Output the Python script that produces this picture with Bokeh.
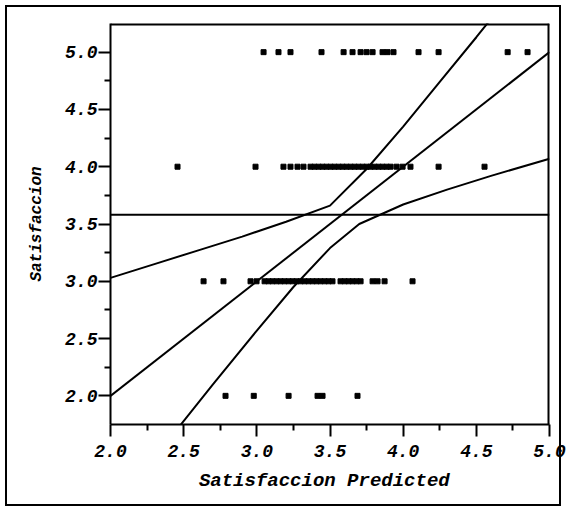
from bokeh.plotting import figure
from bokeh.models import FixedTicker, PrintfTickFormatter, Range1d, ColumnDataSource
from bokeh.embed import file_html
from bokeh.resources import INLINE

# Observed points: x = Satisfaccion Predicted, y = Satisfaccion
row5_x = [3.046, 3.148, 3.230, 3.442, 3.593, 3.654, 3.709, 3.750, 3.791,
          3.859, 3.893, 3.934, 4.105, 4.242, 4.714, 4.850]
row4_x = [2.458, 2.991, 3.182, 3.230, 3.278, 3.319, 3.367, 3.394, 3.422,
          3.449, 3.476, 3.504, 3.531, 3.559, 3.586, 3.613, 3.641, 3.668,
          3.695, 3.723, 3.750, 3.777, 3.805, 3.832, 3.859, 3.887, 3.914,
          3.955, 3.996, 4.050, 4.242, 4.556]
row3_x = [2.636, 2.772, 2.957, 2.998, 3.053, 3.080, 3.107, 3.135, 3.162,
          3.189, 3.217, 3.244, 3.271, 3.299, 3.326, 3.353, 3.381, 3.408,
          3.435, 3.463, 3.490, 3.517, 3.572, 3.600, 3.627, 3.654, 3.682,
          3.709, 3.791, 3.825, 3.873, 4.064]
row2_x = [2.786, 2.979, 3.217, 3.415, 3.449, 3.688]

pts_x = row5_x + row4_x + row3_x + row2_x
pts_y = [5.0] * len(row5_x) + [4.0] * len(row4_x) + [3.0] * len(row3_x) + [2.0] * len(row2_x)

# Fit line, mean line and confidence curves
fit_x = [2.0, 5.0]
fit_y = [2.0, 5.0]
mean_y = 3.58
upper_x = [2.0, 2.3, 2.6, 2.9, 3.2, 3.5, 3.75, 4.0, 4.25, 4.5, 4.6]
upper_y = [3.03, 3.15, 3.27, 3.39, 3.52, 3.66, 3.98, 4.35, 4.74, 5.13, 5.29]
lower_x = [2.45, 2.7, 3.0, 3.25, 3.5, 3.7, 4.0, 4.3, 4.6, 5.0]
lower_y = [1.70, 2.10, 2.57, 2.95, 3.29, 3.50, 3.67, 3.80, 3.92, 4.07]

x_range = (2.0, 5.0)
y_range = (1.75, 5.25)
x_ticks = [2.0, 2.5, 3.0, 3.5, 4.0, 4.5, 5.0]
x_minor = [2.25, 2.75, 3.25, 3.75, 4.25, 4.75]
y_ticks = [2.0, 2.5, 3.0, 3.5, 4.0, 4.5, 5.0]
y_minor = [2.25, 2.75, 3.25, 3.75, 4.25, 4.75]

p = figure(width=566, height=511, output_backend="svg", toolbar_location=None,
           x_range=Range1d(*x_range), y_range=Range1d(*y_range),
           min_border_left=110, min_border_top=23, min_border_right=17,
           min_border_bottom=87)
p.grid.visible = False
p.outline_line_color = None
p.border_fill_color = None
p.background_fill_color = None
p.styles = {"outline": "2px solid black", "outline-offset": "-7px",
            "background-color": "white"}

for ax in (p.xaxis[0], p.yaxis[0]):
    ax.axis_line_width = 2
    ax.axis_line_color = "black"
    ax.major_tick_line_width = 2
    ax.minor_tick_line_width = 2
    ax.major_tick_in = 0
    ax.major_tick_out = 12
    ax.minor_tick_in = 0
    ax.minor_tick_out = 6
    ax.major_label_text_font = "Liberation Mono"
    ax.major_label_text_font_style = "bold italic"
    ax.major_label_text_font_size = "18px"
    ax.major_label_text_color = "black"
    ax.axis_label_text_font = "Liberation Mono"
    ax.axis_label_text_font_style = "bold italic"
    ax.axis_label_text_color = "black"
    ax.formatter = PrintfTickFormatter(format="%.1f")

p.xaxis[0].ticker = FixedTicker(ticks=x_ticks, minor_ticks=x_minor)
p.yaxis[0].ticker = FixedTicker(ticks=y_ticks, minor_ticks=y_minor)
p.xaxis[0].axis_label = "Satisfaccion  Predicted"
p.yaxis[0].axis_label = "Satisfaccion"
p.xaxis[0].axis_label_text_font_size = "19px"
p.yaxis[0].axis_label_text_font_size = "16px"
p.xaxis[0].major_label_standoff = 8
p.yaxis[0].major_label_standoff = 1
p.xaxis[0].axis_label_standoff = 10
p.yaxis[0].axis_label_standoff = 16

# top and right edges of the data frame
p.line(list(x_range), [y_range[1], y_range[1]], line_color="black", line_width=4)
p.line([x_range[1], x_range[1]], list(y_range), line_color="black", line_width=4)

p.line(fit_x, fit_y, line_color="black", line_width=2)
p.line(list(x_range), [mean_y, mean_y], line_color="black", line_width=2)
p.line(upper_x, upper_y, line_color="black", line_width=2)
p.line(lower_x, lower_y, line_color="black", line_width=2)

src = ColumnDataSource(dict(x=pts_x, y=pts_y))
p.scatter("x", "y", source=src, marker="square", size=5, fill_color="black",
          line_color="black")

open("out.html", "w").write(file_html(p, INLINE))
